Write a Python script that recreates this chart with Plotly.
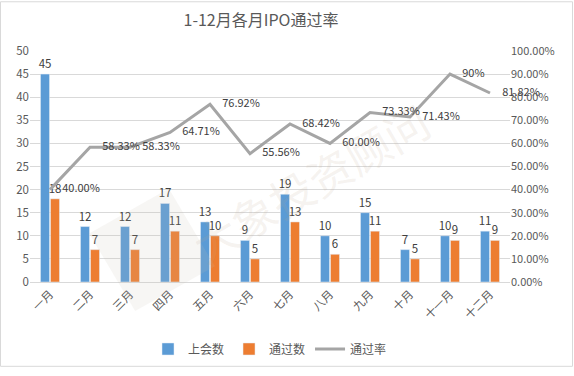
import math
import plotly.graph_objects as go

months = ["一月", "二月", "三月", "四月", "五月", "六月", "七月", "八月", "九月", "十月", "十一月", "十二月"]
meetings = [45, 12, 12, 17, 13, 9, 19, 10, 15, 7, 10, 11]
passed = [18, 7, 7, 11, 10, 5, 13, 6, 11, 5, 9, 9]
rate = [0.40, 0.5833, 0.5833, 0.6471, 0.7692, 0.5556, 0.6842, 0.60, 0.7333, 0.7143, 0.90, 0.8182]
rate_labels = ["40.00%", "58.33%", "58.33%", "64.71%", "76.92%", "55.56%", "68.42%", "60.00%", "73.33%", "71.43%", "90%", "81.82%"]

FONT = "Noto Sans CJK SC"
TXT = "#404040"
AX = "#595959"

W, H = 574, 376
L, R, T, B = 30, 64, 51, 88
pw, ph = W - L - R, H - T - B


def px2paper(px, py):
    return (px - L) / pw, (H - B - py) / ph


# faint watermark logo (rotated square)
cx, cy, s, ang = 152, 255, 92, math.radians(30)
pts = []
for dx, dy in [(-1, -1), (1, -1), (1, 1), (-1, 1)]:
    x = dx * s / 2
    y = dy * s / 2
    rx = x * math.cos(ang) + y * math.sin(ang)
    ry = -x * math.sin(ang) + y * math.cos(ang)
    pts.append(px2paper(cx + rx, cy + ry))
logo_path = "M " + " L ".join(f"{a:.4f},{b:.4f}" for a, b in pts) + " Z"
wm_x, wm_y = px2paper(310, 185)

fig = go.Figure()
fig.add_trace(go.Bar(x=months, y=meetings, name="上会数", marker_color="#5B9BD5",
                     text=[str(v) for v in meetings], textposition="outside", textangle=0,
                     constraintext="none",
                     textfont=dict(color=TXT, size=11.5, family=FONT), cliponaxis=False))
fig.add_trace(go.Bar(x=months, y=passed, name="通过数", marker_color="#ED7D31",
                     text=[str(v) for v in passed], textposition="outside", textangle=0,
                     constraintext="none",
                     textfont=dict(color=TXT, size=11.5, family=FONT), cliponaxis=False))
fig.add_trace(go.Scatter(x=months, y=rate, name="通过率", yaxis="y2", mode="lines+markers+text",
                         line=dict(color="#A5A5A5", width=3),
                         marker=dict(size=18, color="rgba(0,0,0,0)", line=dict(width=0)),
                         text=rate_labels, textposition="middle right",
                         textfont=dict(color=TXT, size=11, family=FONT), cliponaxis=False))

fig.update_layout(
    width=W, height=H,
    margin=dict(l=L, r=R, t=T, b=B),
    paper_bgcolor="white", plot_bgcolor="white",
    font=dict(family=FONT, color=AX, size=11),
    title=dict(text="1-12月各月IPO通过率", x=261 / W, xanchor="center", y=0.945, yanchor="middle",
               font=dict(size=16, color=AX, family=FONT)),
    barmode="group", bargap=0.5, bargroupgap=0.1,
    xaxis=dict(tickangle=-45, showline=True, linecolor="#D9D9D9", ticks="",
               range=[-0.5, len(months) - 0.5], autorange=False,
               tickfont=dict(size=11.5, color=AX)),
    yaxis=dict(range=[0, 50], dtick=5, showgrid=True, gridcolor="#D9D9D9", zeroline=False,
               tickfont=dict(size=11.5, color=AX), ticks=""),
    yaxis2=dict(range=[0, 1], dtick=0.1, tickformat=".2%", overlaying="y", side="right",
                showgrid=False, zeroline=False, tickfont=dict(size=11, color=AX), ticks=""),
    legend=dict(orientation="h", x=0.5, xanchor="center", y=-0.29, yanchor="middle",
                font=dict(size=12, color=AX), traceorder="normal"),
    showlegend=True,
    shapes=[
        dict(type="rect", xref="paper", yref="paper",
             x0=-(L - 0.5) / pw, x1=1 + (R - 1.5) / pw,
             y0=-(B - 1.5) / ph, y1=1 + (T - 0.5) / ph,
             line=dict(color="#D9D9D9", width=1), layer="below"),
        dict(type="path", xref="paper", yref="paper", path=logo_path,
             fillcolor="rgba(200,190,180,0.14)", line=dict(width=0), layer="above"),
    ],
    annotations=[dict(text="大象投资顾问", x=wm_x, y=wm_y, xref="paper", yref="paper",
                      showarrow=False, textangle=-30,
                      font=dict(size=44, color="rgba(190,165,140,0.14)", family=FONT))],
)
fig.write_html(
    "out.html", config={"displayModeBar": False},
    post_script=("document.documentElement.style.margin='0';document.documentElement.style.padding='0';"
                 "document.documentElement.style.overflow='hidden';"
                 "document.body.style.margin='0';document.body.style.padding='0';"
                 "document.body.style.overflow='hidden';"),
)
